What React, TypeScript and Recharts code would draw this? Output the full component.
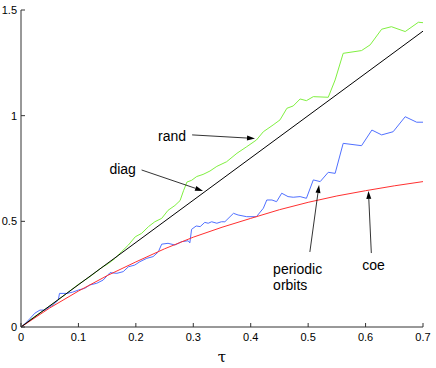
import { LineChart, Line, XAxis, YAxis, ReferenceLine, ReferenceDot } from "recharts";

// tau grids and form-factor values
const tauDiag = [0, 0.7];
const diagValues = [0, 1.4];

const tauCoe = [0, 0.05, 0.1, 0.15, 0.2, 0.25, 0.3, 0.35, 0.4, 0.45, 0.5, 0.55, 0.6, 0.65, 0.7];
const coeValues = [0, 0.09, 0.17, 0.243, 0.308, 0.37, 0.425, 0.472, 0.514, 0.555, 0.59, 0.62, 0.645, 0.668, 0.688];

const tauRand = [
  0, 0.02, 0.04, 0.06, 0.08, 0.1, 0.12, 0.14, 0.152, 0.164, 0.175, 0.187, 0.199, 0.21, 0.222, 0.233,
  0.245, 0.256, 0.268, 0.277, 0.283, 0.289, 0.297, 0.306, 0.317, 0.329, 0.341, 0.358, 0.376, 0.393,
  0.41, 0.422, 0.439, 0.451, 0.463, 0.474, 0.486, 0.497, 0.509, 0.535, 0.547, 0.561, 0.593, 0.608,
  0.628, 0.645, 0.669, 0.692, 0.7,
];
const randValues = [
  0, 0.042, 0.08, 0.118, 0.16, 0.202, 0.238, 0.28, 0.3, 0.325, 0.356, 0.388, 0.427, 0.443, 0.475, 0.498,
  0.514, 0.552, 0.575, 0.598, 0.645, 0.686, 0.694, 0.712, 0.722, 0.738, 0.76, 0.782, 0.822, 0.853,
  0.885, 0.924, 0.956, 0.98, 1.035, 1.046, 1.079, 1.071, 1.09, 1.087, 1.169, 1.295, 1.308, 1.335,
  1.409, 1.421, 1.398, 1.442, 1.44,
];

const tauOrbits = [
  0, 0.008, 0.016, 0.024, 0.033, 0.042, 0.05, 0.056, 0.065, 0.067, 0.08, 0.09, 0.1, 0.111, 0.12, 0.132,
  0.143, 0.155, 0.167, 0.178, 0.187, 0.198, 0.207, 0.219, 0.23, 0.239, 0.245, 0.256, 0.268, 0.28, 0.291,
  0.294, 0.297, 0.305, 0.312, 0.32, 0.326, 0.332, 0.341, 0.349, 0.355, 0.364, 0.37, 0.378, 0.393, 0.41,
  0.422, 0.428, 0.437, 0.445, 0.454, 0.465, 0.474, 0.486, 0.497, 0.509, 0.521, 0.535, 0.547, 0.561,
  0.593, 0.611, 0.628, 0.648, 0.669, 0.689, 0.7,
];
const orbitValues = [
  0, 0.018, 0.041, 0.065, 0.08, 0.08, 0.096, 0.104, 0.128, 0.159, 0.159, 0.165, 0.175, 0.183, 0.199, 0.207,
  0.222, 0.257, 0.254, 0.262, 0.285, 0.293, 0.309, 0.325, 0.333, 0.355, 0.392, 0.396, 0.388, 0.404, 0.408,
  0.398, 0.462, 0.478, 0.475, 0.495, 0.491, 0.498, 0.491, 0.498, 0.498, 0.522, 0.538, 0.53, 0.522, 0.522,
  0.562, 0.601, 0.601, 0.593, 0.633, 0.617, 0.614, 0.617, 0.609, 0.696, 0.688, 0.732, 0.727, 0.869,
  0.858, 0.932, 0.909, 0.924, 0.995, 0.969, 0.969,
];

const xTicks = [0, 0.1, 0.2, 0.3, 0.4, 0.5, 0.6, 0.7];
const yTicks = [0, 0.5, 1, 1.5];

// annotation labels and arrows, in data coordinates
const labelNames = ["rand", "diag", "periodic orbits", "coe"];
const labelPos = [[0.263, 0.904], [0.177, 0.748], [0.439, 0.237], [0.614, 0.293]];
const arrowFrom = [[0.298, 0.909], [0.21, 0.743], [0.503, 0.355], [0.61, 0.35]];
const arrowTo = [[0.4075, 0.892], [0.317, 0.644], [0.519, 0.672], [0.605, 0.644]];

const zip = (xs: number[], ys: number[]) => xs.map((t, i) => ({ t, v: ys[i] }));

const FONT = "'Liberation Sans', Arial, Helvetica, sans-serif";

const XTick = (props: any) => {
  const { x, y, payload } = props;
  return (
    <g>
      <line x1={x} y1={y} x2={x} y2={y - 4} stroke="#333" />
      <text x={x} y={y + 14} textAnchor="middle" fontSize={11} fontFamily={FONT} fill="#000">
        {payload.value}
      </text>
    </g>
  );
};

const YTick = (props: any) => {
  const { x, y, payload } = props;
  return (
    <g>
      <line x1={x} y1={y} x2={x + 4} y2={y} stroke="#333" />
      <text x={x - 4} y={y + 4} textAnchor="end" fontSize={11} fontFamily={FONT} fill="#000">
        {payload.value}
      </text>
    </g>
  );
};

const Arrow = (p: any) => {
  const { x1, y1, x2, y2 } = p;
  const a = Math.atan2(y2 - y1, x2 - x1);
  const L = 8;
  const W = 2.5;
  const bx = x2 - L * Math.cos(a);
  const by = y2 - L * Math.sin(a);
  const pts = `${x2},${y2} ${bx + W * Math.sin(a)},${by - W * Math.cos(a)} ${bx - W * Math.sin(a)},${by + W * Math.cos(a)}`;
  return (
    <g>
      <line x1={x1} y1={y1} x2={bx} y2={by} stroke="#000" strokeWidth={0.8} />
      <polygon points={pts} fill="#000" />
    </g>
  );
};

const makeLabel = (name: string) => (p: any) => {
  const { cx, cy } = p;
  const words = name.split(" ");
  if (words.length > 1) {
    return (
      <text x={cx} y={cy - 3} fontSize={14} fontFamily={FONT} fill="#000">
        <tspan x={cx}>{words[0]}</tspan>
        <tspan x={cx} dy={16}>{words[1]}</tspan>
      </text>
    );
  }
  return (
    <text x={cx} y={cy + 5} textAnchor="middle" fontSize={14} fontFamily={FONT} fill="#000">
      {name}
    </text>
  );
};

export default function App() {
  return (
    <div style={{ position: "absolute", left: 0, top: 0, background: "#fff" }}>
      <LineChart width={436} height={368} margin={{ top: 10, right: 13, bottom: 0, left: 0 }}>
        <XAxis
          type="number"
          dataKey="t"
          domain={[0, 0.7]}
          ticks={xTicks}
          height={41}
          tickSize={0}
          tickMargin={0}
          tick={<XTick />}
          axisLine={{ stroke: "#333" }}
          label={{ value: "τ", position: "insideBottom", offset: 6, style: { fontFamily: "'DejaVu Serif', serif", fontSize: 15, fill: "#000" } }}
        />
        <YAxis
          type="number"
          dataKey="v"
          domain={[0, 1.5]}
          ticks={yTicks}
          width={21}
          tickSize={0}
          tickMargin={0}
          tick={<YTick />}
          axisLine={{ stroke: "#333" }}
        />
        <Line data={zip(tauRand, randValues)} dataKey="v" stroke="#80f040" strokeWidth={1} dot={false} isAnimationActive={false} />
        <Line data={zip(tauOrbits, orbitValues)} dataKey="v" stroke="#5070ff" strokeWidth={1} dot={false} isAnimationActive={false} />
        <Line data={zip(tauCoe, coeValues)} dataKey="v" stroke="#ff3030" strokeWidth={1} dot={false} isAnimationActive={false} />
        <Line data={zip(tauDiag, diagValues)} dataKey="v" stroke="#000" strokeWidth={1} dot={false} isAnimationActive={false} />
        {labelNames.map((name, i) => (
          <ReferenceLine
            key={"a" + name}
            segment={[
              { x: arrowFrom[i][0], y: arrowFrom[i][1] },
              { x: arrowTo[i][0], y: arrowTo[i][1] },
            ]}
            ifOverflow="visible"
            shape={Arrow}
          />
        ))}
        {labelNames.map((name, i) => (
          <ReferenceDot
            key={"l" + name}
            x={labelPos[i][0]}
            y={labelPos[i][1]}
            r={1}
            ifOverflow="visible"
            shape={makeLabel(name)}
          />
        ))}
      </LineChart>
    </div>
  );
}
